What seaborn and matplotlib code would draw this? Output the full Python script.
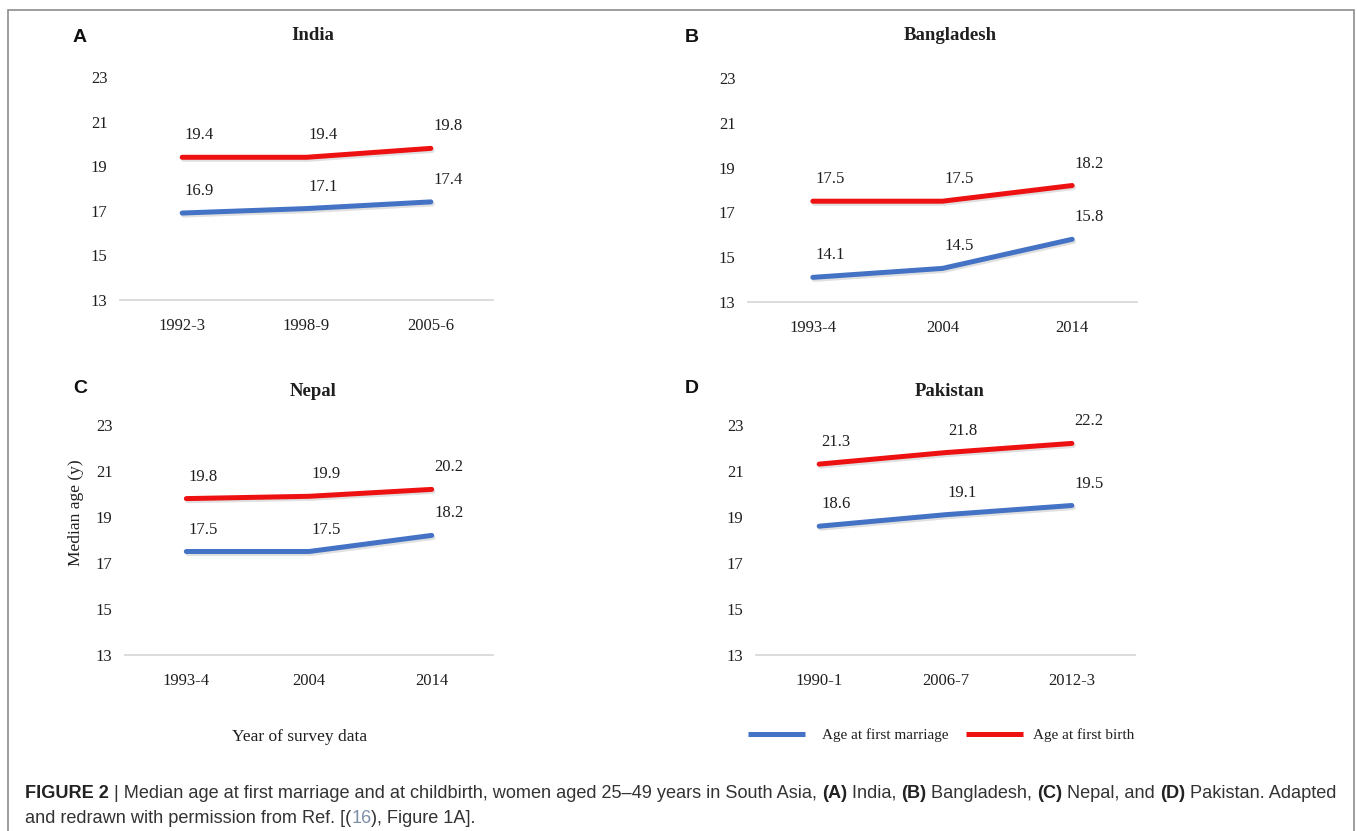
import matplotlib
matplotlib.use("Agg")
import matplotlib.pyplot as plt
import matplotlib.patheffects as pe
from matplotlib.patches import Rectangle
from matplotlib.lines import Line2D
import pandas as pd
import seaborn as sns

# ---- data -------------------------------------------------------------
countries = ["India", "Bangladesh", "Nepal", "Pakistan"]
panel_letters = ["A", "B", "C", "D"]

india_periods = ["1992-3", "1998-9", "2005-6"]
india_marriage = [16.9, 17.1, 17.4]
india_birth = [19.4, 19.4, 19.8]

bangladesh_periods = ["1993-4", "2004", "2014"]
bangladesh_marriage = [14.1, 14.5, 15.8]
bangladesh_birth = [17.5, 17.5, 18.2]

nepal_periods = ["1993-4", "2004", "2014"]
nepal_marriage = [17.5, 17.5, 18.2]
nepal_birth = [19.8, 19.9, 20.2]

pakistan_periods = ["1990-1", "2006-7", "2012-3"]
pakistan_marriage = [18.6, 19.1, 19.5]
pakistan_birth = [21.3, 21.8, 22.2]

series_names = ["Age at first marriage", "Age at first birth"]
y_ticks = [13, 15, 17, 19, 21, 23]

panels = [
    (india_periods, india_marriage, india_birth),
    (bangladesh_periods, bangladesh_marriage, bangladesh_birth),
    (nepal_periods, nepal_marriage, nepal_birth),
    (pakistan_periods, pakistan_marriage, pakistan_birth),
]

# ---- style ------------------------------------------------------------
palette = {series_names[0]: "#4472C4", series_names[1]: "#EE1111"}
TEXT = "#1f1f1f"
SERIF = ["Liberation Serif", "DejaVu Serif"]
SANS = ["Liberation Sans", "DejaVu Sans"]
LABEL_SIZE = 12

sns.set_theme(style="white")
plt.rcParams["font.family"] = SERIF

W, H, DPI = 1357, 831, 100
fig = plt.figure(figsize=(W / DPI, H / DPI), dpi=DPI)
fig.patch.set_facecolor("white")


def fx(x):
    return x / W


def fy(y):
    return 1 - y / H


def box(x0, y0, x1, y1):
    return [fx(x0), fy(y1), fx(x1) - fx(x0), fy(y0) - fy(y1)]


# outer frame
fig.add_artist(Rectangle((fx(8), fy(845)), fx(1354) - fx(8), fy(10) - fy(845),
                         transform=fig.transFigure, fill=False,
                         edgecolor="#8c8c8c", linewidth=1.2))

axes_boxes = [box(120, 77, 493, 300), box(748, 78, 1137, 302),
              box(125, 425, 493, 655), box(756, 425, 1135, 655)]
title_pos = [(313, 35), (950, 35), (313, 391), (950, 391)]
letter_pos = [(80, 37), (692, 37), (80, 389), (692, 389)]

line_fx = [pe.SimpleLineShadow(offset=(1.0, -1.5), shadow_color="#000000", alpha=0.12),
           pe.Normal()]

for i, (periods, marriage, birth) in enumerate(panels):
    ax = fig.add_axes(axes_boxes[i])
    df = pd.DataFrame({
        "period": periods + periods,
        "age": marriage + birth,
        "series": [series_names[0]] * len(periods) + [series_names[1]] * len(periods),
    })
    sns.lineplot(data=df, x="period", y="age", hue="series", hue_order=series_names,
                 palette=palette, sort=False, legend=False, ax=ax,
                 linewidth=3.6, solid_capstyle="round", path_effects=line_fx)

    # value labels above each point
    for vals in (marriage, birth):
        for j, v in enumerate(vals):
            ax.annotate(f"{v:.1f}", xy=(j, v), xytext=(17, 22),
                        textcoords="offset pixels", ha="center", va="center",
                        fontsize=LABEL_SIZE, color=TEXT)

    ax.set_xlim(-0.5, len(periods) - 0.5)
    ax.set_ylim(y_ticks[0], y_ticks[-1])
    ax.set_yticks(y_ticks)
    ax.set_xlabel("")
    ax.set_ylabel("")
    ax.set_facecolor("none")
    for s in ("top", "right", "left"):
        ax.spines[s].set_visible(False)
    ax.spines["bottom"].set_color("#d9d9d9")
    ax.spines["bottom"].set_linewidth(1.3)
    ax.tick_params(axis="both", length=0, labelsize=LABEL_SIZE, labelcolor=TEXT)
    ax.tick_params(axis="y", pad=9)
    ax.tick_params(axis="x", pad=13)

    tx, ty = title_pos[i]
    fig.text(fx(tx), fy(ty), countries[i], ha="center", va="center",
             fontsize=13.5, fontweight="bold", color=TEXT, family=SERIF)
    lx, ly = letter_pos[i]
    fig.text(fx(lx), fy(ly), panel_letters[i], ha="center", va="center",
             fontsize=14, fontweight="bold", color="#111111", family=SANS)

# shared axis titles
fig.text(fx(76), fy(513), "Median age (y)", rotation=90, ha="center", va="center",
         fontsize=12.5, color=TEXT, family=SERIF)
fig.text(fx(300), fy(737), "Year of survey data", ha="center", va="center",
         fontsize=12.5, color=TEXT, family=SERIF)

# legend
legend_items = [(748, 805, 822), (966, 1023, 1033)]
for name, (x0, x1, xt) in zip(series_names, legend_items):
    fig.add_artist(Line2D([fx(x0), fx(x1)], [fy(734), fy(734)],
                          transform=fig.transFigure, color=palette[name],
                          linewidth=3.6, solid_capstyle="butt"))
    fig.text(fx(xt), fy(735), name, ha="left", va="center",
             fontsize=11, color=TEXT, family=SERIF)

# caption with mixed weights
fig.canvas.draw()
renderer = fig.canvas.get_renderer()


def caption_line(x_px, y_px, runs, size=13.1):
    x = x_px
    for text, weight, color in runs:
        t = fig.text(fx(x), fy(y_px), text, ha="left", va="baseline",
                     fontsize=size, fontweight=weight, color=color, family=SANS)
        x += t.get_window_extent(renderer).width


CAP = "#333333"
LINK = "#7d8fa8"
caption_line(25, 798, [
    ("FIGURE 2", "bold", "#222222"),
    (" | Median age at first marriage and at childbirth, women aged 25\u201349 years in South Asia, ", "normal", CAP),
    ("(A)", "bold", "#222222"), (" India, ", "normal", CAP),
    ("(B)", "bold", "#222222"), (" Bangladesh, ", "normal", CAP),
    ("(C)", "bold", "#222222"), (" Nepal, and ", "normal", CAP),
    ("(D)", "bold", "#222222"), (" Pakistan. Adapted", "normal", CAP),
])
caption_line(25, 823, [
    ("and redrawn with permission from Ref. [(", "normal", CAP),
    ("16", "normal", LINK),
    ("), Figure 1A].", "normal", CAP),
])

fig.savefig("out.png", dpi=DPI, facecolor="white")
